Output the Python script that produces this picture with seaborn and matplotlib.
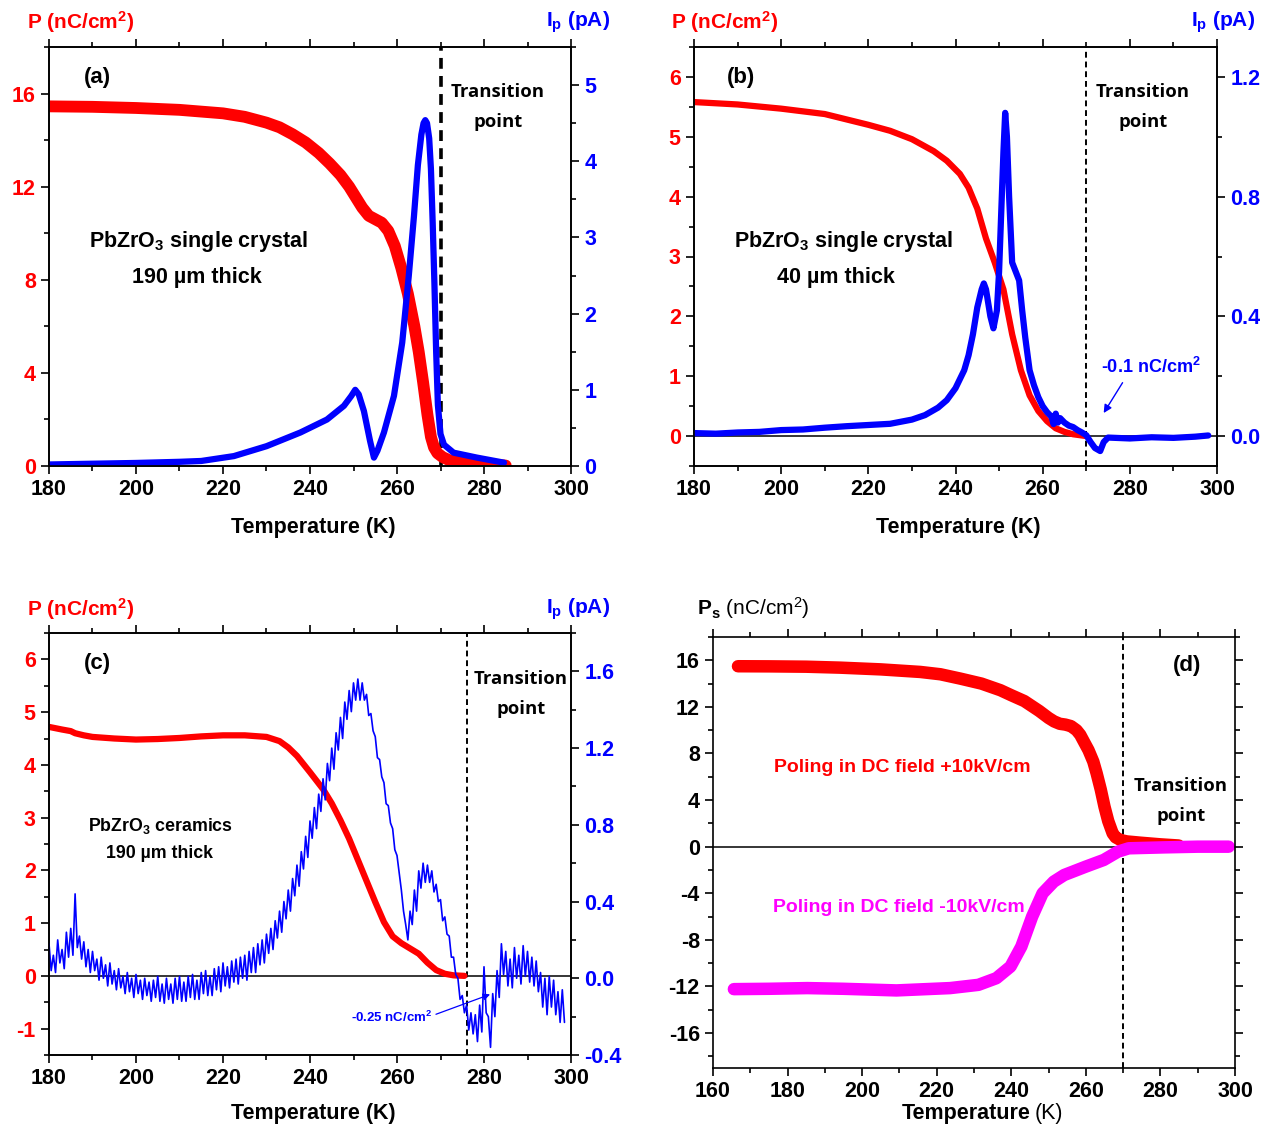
import matplotlib
matplotlib.use("Agg")
import matplotlib.pyplot as plt
from matplotlib.ticker import MultipleLocator, FormatStrFormatter
import seaborn as sns

# ---------------- data ----------------
# (a) 190 um single crystal
a_T_pol = [180, 190, 200, 210, 220, 225, 230, 233, 236, 239, 242, 244.5, 247, 249,
           250.5, 252, 253.5, 255, 256.5, 258, 259.5, 261, 262.5, 264, 265, 266, 267,
           267.8, 268.5, 269.3, 270.5, 272, 275, 280, 285]
a_pol = [15.45, 15.43, 15.38, 15.3, 15.15, 15.0, 14.75, 14.55, 14.25, 13.9, 13.45,
         13.0, 12.5, 12.0, 11.55, 11.1, 10.75, 10.6, 10.45, 10.1, 9.45, 8.5, 7.4, 6.0,
         4.9, 3.6, 2.2, 1.25, 0.8, 0.55, 0.38, 0.25, 0.14, 0.06, 0.02]
a_T_cur = [180, 190, 200, 210, 215, 222.5, 230, 237.8, 243.9, 247.8, 249.5, 250.4, 251.2,
           252.4, 253.8, 254.7, 255.5, 257, 259.3, 261.2, 262.7, 263.9, 264.8, 265.6,
           266.1, 266.5, 266.9, 267.4, 267.8, 268.2, 268.6, 269.0, 269.4, 270.0, 270.8,
           273, 278.4, 284.6]
a_cur = [0.02, 0.03, 0.04, 0.055, 0.066, 0.13, 0.26, 0.44, 0.61, 0.79, 0.92, 1.0, 0.94,
         0.72, 0.33, 0.11, 0.2, 0.44, 0.92, 1.62, 2.49, 3.28, 3.95, 4.35, 4.5, 4.54,
         4.5, 4.3, 3.9, 3.2, 2.4, 1.5, 0.8, 0.42, 0.28, 0.175, 0.11, 0.044]

# (b) 40 um single crystal
b_T_pol = [180, 190, 200, 210, 220, 225, 230, 235, 238, 241, 243, 245, 247, 249, 251,
           253, 255, 257, 259, 261, 263, 265, 267, 270]
b_pol = [5.58, 5.54, 5.47, 5.38, 5.2, 5.1, 4.96, 4.76, 4.6, 4.38, 4.15, 3.8, 3.3, 2.9,
         2.45, 1.7, 1.1, 0.68, 0.42, 0.25, 0.13, 0.07, 0.03, 0.0]
b_T_cur = [180, 185, 190, 195, 200, 205, 210, 215, 220, 225, 230, 233, 236, 238, 240,
           242, 243, 244, 245, 246, 246.5, 247, 248, 248.7, 249.5, 250, 250.5, 251,
           251.4, 251.8, 252.3, 253, 253.8, 254.6, 255.3, 256, 257, 258, 259, 260, 261,
           262, 262.5, 263, 263.5, 264, 265, 266, 267, 268, 269, 270, 271, 272, 273.2,
           274, 275, 280, 285, 290, 295, 298]
b_cur = [0.01, 0.008, 0.012, 0.014, 0.02, 0.022, 0.028, 0.033, 0.037, 0.041, 0.055,
         0.07, 0.095, 0.12, 0.16, 0.22, 0.27, 0.34, 0.43, 0.49, 0.51, 0.49, 0.40, 0.36,
         0.42, 0.55, 0.75, 0.95, 1.08, 1.0, 0.80, 0.58, 0.55, 0.52, 0.42, 0.33, 0.22,
         0.17, 0.13, 0.10, 0.08, 0.065, 0.04, 0.075, 0.045, 0.06, 0.045, 0.035, 0.03,
         0.02, 0.012, 0.003, -0.02, -0.04, -0.05, -0.02, -0.005, -0.008, -0.004,
         -0.006, -0.002, 0.002]

# (c) 190 um ceramics
c_T_pol = [180, 183, 185, 186, 188, 190, 195, 200, 205, 210, 215, 220, 225, 230, 233,
           235, 237, 240, 243, 245, 247, 249, 251, 253, 255, 257, 259, 261, 263, 265,
           267, 269, 271, 273, 275.5]
c_pol = [4.72, 4.67, 4.64, 4.60, 4.56, 4.53, 4.5, 4.48, 4.49, 4.51, 4.54, 4.56, 4.56,
         4.53, 4.45, 4.33, 4.17, 3.86, 3.54, 3.27, 2.95, 2.6, 2.2, 1.8, 1.4, 1.02, 0.75,
         0.62, 0.52, 0.42, 0.25, 0.11, 0.04, 0.01, 0.0]
c_T_cur = [180 + 0.5 * i for i in range(238)]  # sampling grid, 0.5 K
c_cur = [0.18, 0.04, 0.12, 0.03, 0.20, 0.08, 0.15, 0.05, 0.24, 0.11,
         0.26, 0.12, 0.44, 0.16, 0.22, 0.10, 0.19, 0.06, 0.15, 0.03,
         0.14, 0.04, 0.10, -0.01, 0.11, 0.00, 0.07, -0.04, 0.08, -0.03,
         0.04, -0.06, 0.05, -0.05, 0.01, -0.08, 0.03, -0.07, 0.00, -0.10,
         0.02, -0.08, -0.01, -0.11, 0.00, -0.09, -0.02, -0.12, -0.01, -0.10,
         0.01, -0.12, -0.03, -0.13, 0.00, -0.11, -0.03, -0.13, 0.00, -0.11,
         0.01, -0.12, -0.02, -0.12, 0.01, -0.10, 0.02, -0.11, -0.01, -0.11,
         0.03, -0.08, 0.04, -0.09, 0.01, -0.09, 0.05, -0.06, 0.06, -0.07,
         0.08, -0.04, 0.06, -0.05, 0.09, -0.02, 0.10, -0.03, 0.11, 0.00,
         0.12, -0.01, 0.14, 0.03, 0.16, 0.03, 0.18, 0.07, 0.20, 0.08,
         0.23, 0.13, 0.26, 0.15, 0.30, 0.21, 0.35, 0.24, 0.40, 0.31,
         0.46, 0.35, 0.52, 0.43, 0.59, 0.48, 0.66, 0.57, 0.74, 0.63,
         0.82, 0.73, 0.89, 0.78, 0.96, 0.87, 1.04, 0.93, 1.12, 1.03,
         1.20, 1.09, 1.28, 1.19, 1.36, 1.25, 1.44, 1.35, 1.50, 1.39,
         1.54, 1.45, 1.56, 1.45, 1.54, 1.45, 1.48, 1.37, 1.38, 1.29,
         1.26, 1.15, 1.14, 1.05, 1.02, 0.91, 0.90, 0.81, 0.78, 0.67,
         0.64, 0.55, 0.46, 0.35, 0.28, 0.20, 0.35, 0.28, 0.46, 0.35,
         0.56, 0.47, 0.60, 0.50, 0.59, 0.50, 0.56, 0.45, 0.49, 0.40,
         0.41, 0.30, 0.32, 0.23, 0.22, 0.11, 0.11, 0.02, 0.00, -0.11,
         -0.09, -0.18, -0.14, -0.27, -0.18, -0.29, -0.19, -0.33, -0.14, -0.28,
         0.06, -0.18, -0.20, -0.36, -0.08, -0.20, 0.04, -0.10, 0.18, 0.02,
         0.14, -0.04, 0.10, -0.05, 0.16, 0.00, 0.12, -0.03, 0.17, 0.01,
         0.14, -0.02, 0.11, -0.04, 0.09, -0.07, 0.03, -0.15, 0.00, -0.19,
         0.01, -0.15, -0.01, -0.19, -0.07, -0.23, -0.06, -0.23]

# (d) poling in +/- DC field
d_T_pos = [166.7, 175, 185, 194, 205, 215.6, 221, 226.3, 232, 237.1, 240, 243.5, 247.5,
           250, 251.5, 253, 254.5, 256, 257.5, 258.5, 259.5, 260.7, 262, 262.9, 264,
           265, 266, 267.2, 268, 269.3, 271, 274.7, 280, 284.9]
d_pos = [15.49, 15.48, 15.45, 15.37, 15.22, 15.0, 14.8, 14.43, 14.0, 13.43, 13.0, 12.5,
         11.65, 11.05, 10.75, 10.55, 10.48, 10.35, 10.0, 9.6, 9.0, 8.29, 7.3, 6.29, 4.9,
         3.43, 2.2, 1.14, 0.8, 0.57, 0.45, 0.34, 0.2, 0.1]
d_T_neg = [165.6, 175, 185.3, 195, 209.2, 223.6, 231.2, 236, 239.8, 242.7, 245.6, 248.4,
           251.4, 254.2, 260, 264.8, 268.6, 271.5, 281, 290, 298.3]
d_neg = [-12.23, -12.2, -12.14, -12.2, -12.34, -12.14, -11.86, -11.29, -10.29, -8.57,
         -6.0, -4.0, -3.0, -2.43, -1.71, -1.14, -0.43, -0.14, -0.06, 0.0, 0.0]

RED, BLUE, MAGENTA = "#ff0000", "#0000ff", "#ff00ff"

# ---------------- style ----------------
sns.set_theme(style="ticks")
plt.rcParams["font.family"] = ["Liberation Sans", "DejaVu Sans"]
plt.rcParams["font.weight"] = "bold"
plt.rcParams["text.color"] = "black"
plt.rcParams["xtick.color"] = "black"
plt.rcParams["ytick.color"] = "black"
plt.rcParams["axes.edgecolor"] = "black"
plt.rcParams["axes.unicode_minus"] = False
plt.rcParams["mathtext.fontset"] = "custom"
plt.rcParams["mathtext.rm"] = "Liberation Sans"
plt.rcParams["mathtext.bf"] = "Liberation Sans:bold"
plt.rcParams["mathtext.it"] = "Liberation Sans:italic"
plt.rcParams["mathtext.default"] = "regular"
plt.rcParams["axes.linewidth"] = 1.2

W, H = 1268, 1127
fig = plt.figure(figsize=(W / 100, H / 100), dpi=100)
TICK_FS = 15.5


def rect(l, t, r, b):
    return [l / W, 1 - b / H, (r - l) / W, (b - t) / H]


def ftext(x, y, s, **kw):
    kw.setdefault("ha", "center")
    kw.setdefault("va", "center")
    kw.setdefault("color", "black")
    fig.text(x / W, 1 - y / H, s, **kw)


def ticks(ax, color, right=False):
    ax.tick_params(axis="y", which="both", direction="out", width=1.2,
                   labelsize=TICK_FS, labelcolor=color, left=not right,
                   right=right, labelleft=not right, labelright=right)
    ax.tick_params(axis="y", which="major", length=6)
    ax.tick_params(axis="y", which="minor", length=3.5)


def xticks(ax, lo=180):
    ax.set_xlim(lo, 300)
    ax.xaxis.set_major_locator(MultipleLocator(20))
    ax.xaxis.set_minor_locator(MultipleLocator(10))
    ax.tick_params(axis="x", which="both", direction="out", width=1.2,
                   labelsize=TICK_FS, top=True, bottom=True, labelcolor="black")
    ax.tick_params(axis="x", which="major", length=6)
    ax.tick_params(axis="x", which="minor", length=3.5)
    ax.set_xlabel("")


def twin_panel(rc, Tp, P, Ti, I, plim, pmaj, pmin, ilim, imaj, imin, ifmt,
               red_lw, blue_lw, trans, dash_lw, zero_line):
    ax = fig.add_axes(rc)
    ax2 = ax.twinx()
    if zero_line:
        ax.axhline(0, color="black", lw=1.1, zorder=1)
    ax.axvline(trans, color="black", lw=dash_lw, ls=(0, (3, 2)), zorder=1)
    sns.lineplot(x=Tp, y=P, ax=ax, color=RED, linewidth=red_lw, sort=False,
                 estimator=None)
    sns.lineplot(x=Ti, y=I, ax=ax2, color=BLUE, linewidth=blue_lw, sort=False,
                 estimator=None)
    ax.set_ylim(*plim)
    ax.yaxis.set_major_locator(MultipleLocator(pmaj))
    ax.yaxis.set_minor_locator(MultipleLocator(pmin))
    ax2.set_ylim(*ilim)
    ax2.yaxis.set_major_locator(MultipleLocator(imaj))
    ax2.yaxis.set_minor_locator(MultipleLocator(imin))
    ax2.yaxis.set_major_formatter(FormatStrFormatter(ifmt))
    ax.set_ylabel("")
    ax2.set_ylabel("")
    ticks(ax, RED)
    ticks(ax2, BLUE, right=True)
    xticks(ax)
    return ax, ax2


# ---------------- panel (a) ----------------
ax_a, ax_a2 = twin_panel(rect(49, 47, 571, 466), a_T_pol, a_pol, a_T_cur, a_cur,
                         (0, 18), 4, 2, (0, 5.5), 1, 0.5, "%d", 8.5, 4.5, 270, 2.6, False)
# ---------------- panel (b) ----------------
ax_b, ax_b2 = twin_panel(rect(694, 47, 1217, 466), b_T_pol, b_pol, b_T_cur, b_cur,
                         (-0.5, 6.5), 1, 0.5, (-0.1, 1.3), 0.4, 0.2, "%.1f", 4.5, 4.5,
                         270, 1.4, True)
# ---------------- panel (c) ----------------
ax_c, ax_c2 = twin_panel(rect(49, 633, 571, 1055), c_T_pol, c_pol, c_T_cur, c_cur,
                         (-1.5, 6.5), 1, 0.5, (-0.4, 1.8), 0.4, 0.2, "%.1f", 4.5, 1.2,
                         276, 1.4, True)

# ---------------- panel (d) ----------------
ax_d = fig.add_axes(rect(713, 637, 1235, 1068))
ax_d.axhline(0, color="black", lw=1.1, zorder=1)
ax_d.axvline(270, color="black", lw=1.4, ls=(0, (3, 2)), zorder=1)
sns.lineplot(x=d_T_pos, y=d_pos, ax=ax_d, color=RED, linewidth=9, sort=False,
             estimator=None, solid_capstyle="round")
sns.lineplot(x=d_T_neg, y=d_neg, ax=ax_d, color=MAGENTA, linewidth=9, sort=False,
             estimator=None, solid_capstyle="round")
ax_d.set_ylim(-19, 18)
ax_d.yaxis.set_major_locator(MultipleLocator(4))
ax_d.yaxis.set_minor_locator(MultipleLocator(2))
ax_d.tick_params(axis="y", which="both", direction="out", width=1.2,
                 labelsize=TICK_FS, left=True, right=True, labelleft=True,
                 labelright=False, labelcolor="black")
ax_d.tick_params(axis="y", which="major", length=6)
ax_d.tick_params(axis="y", which="minor", length=3.5)
ax_d.set_ylabel("")
xticks(ax_d, lo=160)

for ax in (ax_a, ax_a2, ax_b, ax_b2, ax_c, ax_c2, ax_d):
    for lab in ax.get_yticklabels() + ax.get_xticklabels():
        lab.set_fontweight("bold")
    for sp in ax.spines.values():
        sp.set_color("black")
        sp.set_linewidth(1.2)

# ---------------- axis titles ----------------
for x0, y0, x1 in [(27, 22, 610), (671, 22, 1255), (27, 609, 610)]:
    ftext(x0, y0, r"P (nC/cm$^\mathbf{2}$)", ha="left", color=RED, fontsize=15)
    ftext(x1, y0, r"I$_\mathbf{p}$ (pA)", ha="right", color=BLUE, fontsize=15)
ftext(697, 608, r"$\mathbf{P_s}$ (nC/cm$^2$)", ha="left", fontweight="normal",
      fontsize=15)

ftext(313, 527, "Temperature (K)", fontsize=15.5)
ftext(958, 527, "Temperature (K)", fontsize=15.5)
ftext(313, 1113, "Temperature (K)", fontsize=15.5)
ftext(1031, 1113, "Temperature", ha="right", fontsize=15.5)
ftext(1035, 1113, "(K)", ha="left", fontsize=15.5, fontweight="normal")

# ---------------- panel labels / notes ----------------
for x, y, s in [(97, 77, "(a)"), (741, 77, "(b)"), (97, 664, "(c)"), (1187, 665, "(d)")]:
    ftext(x, y, s, fontsize=16)

for x, y in [(498, 92), (1143, 92), (521, 679), (1181, 786)]:
    ftext(x, y, "Transition", fontsize=13.3, family=["Open Sans", "DejaVu Sans"])
    ftext(x, y + 30, "point", fontsize=13.3, family=["Open Sans", "DejaVu Sans"])

ftext(198, 241, r"PbZrO$_\mathbf{3}$ single crystal", fontsize=15.5)
ftext(197, 278, "190 \u00b5m thick", fontsize=15.5)
ftext(843, 241, r"PbZrO$_\mathbf{3}$ single crystal", fontsize=15.5)
ftext(836, 278, "40 \u00b5m thick", fontsize=15.5)
ftext(160, 826, r"PbZrO$_\mathbf{3}$ ceramics", fontsize=12.8)
ftext(159, 854, "190 \u00b5m thick", fontsize=12.8)

ftext(902, 768, "Poling in DC field +10kV/cm", color=RED, fontsize=14)
ftext(899, 908, "Poling in DC field -10kV/cm", color=MAGENTA, fontsize=14)

# annotations with arrows
ax_b2.annotate(r"-0.1 nC/cm$^\mathbf{2}$", xy=(274.0, 0.077),
               xytext=(1151 / W, 1 - 367 / H), textcoords="figure fraction",
               ha="center", va="center", color=BLUE, fontsize=13,
               arrowprops=dict(arrowstyle="-|>", color=BLUE, lw=1.0, relpos=(0.25, 0),
                               shrinkA=2, shrinkB=0, mutation_scale=12))
ax_c2.annotate(r"-0.25 nC/cm$^\mathbf{2}$", xy=(281.4, -0.084),
               xytext=(392 / W, 1 - 1017 / H), textcoords="figure fraction",
               ha="center", va="center", color=BLUE, fontsize=9.5,
               arrowprops=dict(arrowstyle="-|>", color=BLUE, lw=0.9, relpos=(1, 0.6),
                               shrinkA=0, shrinkB=0, mutation_scale=10))

fig.savefig("out.png", dpi=100)
